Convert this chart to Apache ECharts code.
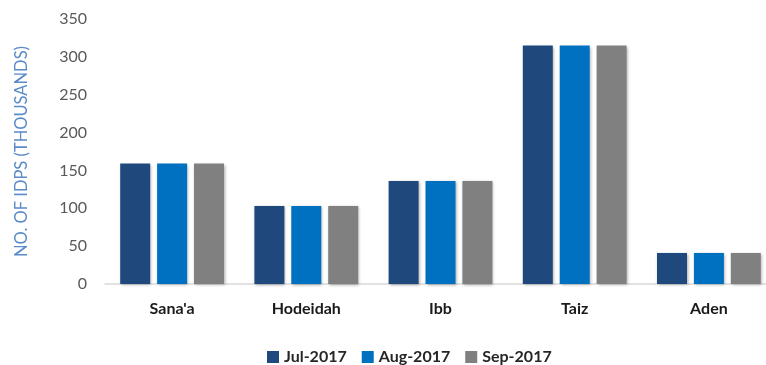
<!DOCTYPE html>
<html><head><meta charset="utf-8">
<script src="https://cdn.jsdelivr.net/npm/echarts@6/dist/echarts.min.js"></script>
<style>html,body{margin:0;padding:0;background:#fff;overflow:hidden}#c{width:790px;height:365px}</style>
</head><body><div id="c"></div>
<script>
const categories = ["Sana'a", "Hodeidah", "Ibb", "Taiz", "Aden"];
const jul2017 = [159, 103, 136, 315, 41];
const aug2017 = [159, 103, 136, 315, 41];
const sep2017 = [159, 103, 136, 315, 41];
const seriesNames = ["Jul-2017", "Aug-2017", "Sep-2017"];
const colors = ["#1F497D", "#0070C0", "#808080"];
const yTicks = [0, 50, 100, 150, 200, 250, 300, 350];

const chart = echarts.init(document.getElementById('c'));
const font = 'Lato, "Open Sans", sans-serif';
const mk = (name, data, color) => ({
  name, type: 'bar', data, barWidth: 30, barGap: '23%',
  itemStyle: { color, shadowBlur: 3, shadowColor: 'rgba(0,0,0,0.35)', shadowOffsetX: 1, shadowOffsetY: 1 }
});
chart.setOption({
  animation: false,
  color: colors,
  grid: { left: 105, top: 19, width: 671, bottom: 81 },
  legend: {
    left: 262, top: 344, itemWidth: 12, itemHeight: 12, itemGap: 15, icon: 'rect',
    textStyle: { fontFamily: font, fontWeight: 'bold', fontSize: 16, color: '#262626' },
    data: seriesNames
  },
  xAxis: {
    type: 'category', data: categories,
    axisLine: { lineStyle: { color: '#d9d9d9', width: 1.5 } },
    axisTick: { show: false },
    axisLabel: { margin: 17, fontFamily: font, fontWeight: 'bold', fontSize: 16, color: '#1a1a1a' }
  },
  yAxis: {
    type: 'value', min: yTicks[0], max: yTicks[yTicks.length - 1], interval: 50,
    name: 'NO. OF IDPS (THOUSANDS)', nameLocation: 'middle', nameGap: 75,
    nameTextStyle: { fontFamily: font, fontSize: 16.5, color: '#5B8BC9' },
    splitLine: { show: false }, axisLine: { show: false }, axisTick: { show: false },
    axisLabel: { margin: 18, fontFamily: font, fontSize: 16, color: '#595959' }
  },
  series: [mk(seriesNames[0], jul2017, colors[0]), mk(seriesNames[1], aug2017, colors[1]), mk(seriesNames[2], sep2017, colors[2])]
});
</script></body></html>
